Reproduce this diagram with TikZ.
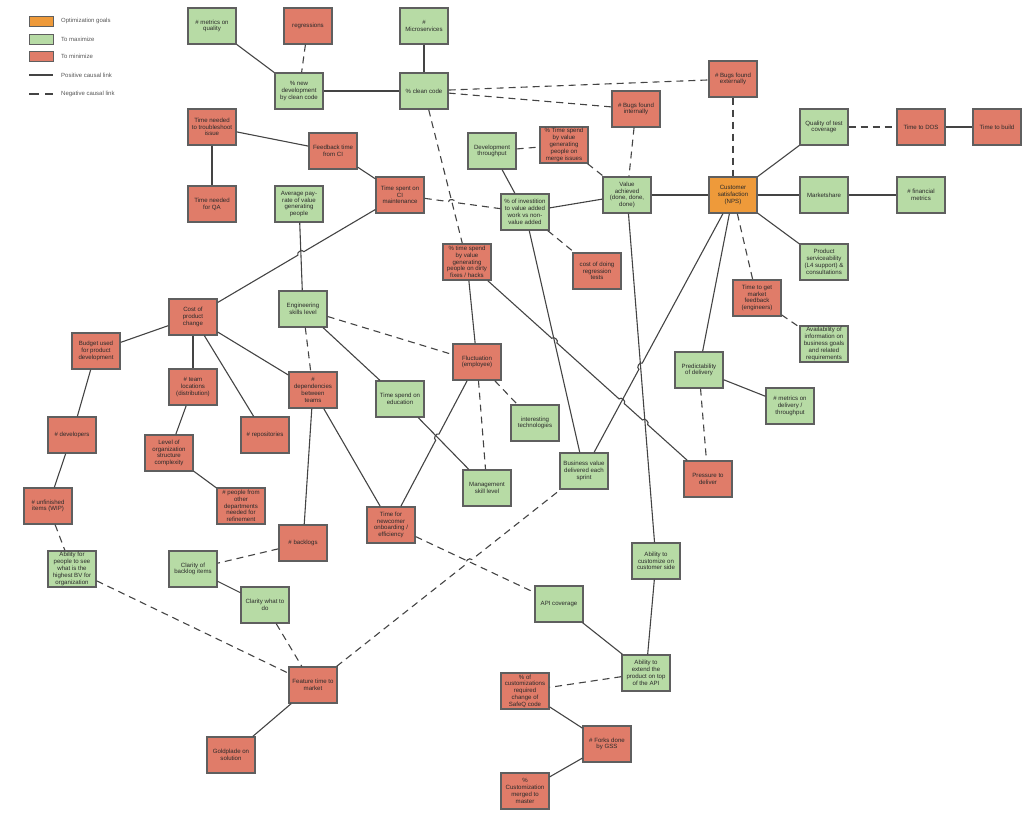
\documentclass[tikz,border=0pt]{standalone}
\usepackage{fontspec}
\setmainfont{Liberation Sans}
\usetikzlibrary{calc}
\definecolor{gfill}{HTML}{B7DBA5}
\definecolor{rfill}{HTML}{E07C69}
\definecolor{ofill}{HTML}{EE9A3A}
\definecolor{bord}{HTML}{5F5F5F}
\definecolor{edgec}{HTML}{444444}
\definecolor{txt}{HTML}{2A2A2A}
\definecolor{legtxt}{HTML}{555555}
\begin{document}
\begin{tikzpicture}[x=1pt,y=-1pt,
  box/.style={draw=bord, line width=1.3pt, minimum width=48pt, minimum height=36pt,
    inner sep=0pt, align=center, font=\fontsize{6.1}{6.8}\selectfont, text=txt},
  gbox/.style={box, fill=gfill},
  rbox/.style={box, fill=rfill},
  obox/.style={box, fill=ofill},
  swatch/.style={draw=bord, line width=1pt, minimum width=24pt, minimum height=10pt, inner sep=0pt},
  legtext/.style={anchor=west, inner sep=0pt, font=\fontsize{6}{7}\selectfont, text=legtxt},
  plink/.style={draw=edgec, line width=1.1pt},
  nlink/.style={plink, dash pattern=on 7pt off 5pt},
  hop/.style={bend left=90, looseness=1.2}
]
\useasboundingbox (0,0) rectangle (1030,819);

% ---------- legend ----------
\node[swatch, fill=ofill] (lgo) at (41,21) {};
\node[swatch, fill=gfill] (lgg) at (41,39.5) {};
\node[swatch, fill=rfill] (lgr) at (41,56) {};
\coordinate (lpa) at (29,75);
\coordinate (lpb) at (53,75);
\coordinate (lna) at (29,94);
\coordinate (lnb) at (53,94);
\draw[plink] (lpa) -- (lpb);
\draw[plink, dash pattern=on 10pt off 6pt] (lna) -- (lnb);
\node[legtext] (lt1) at (61,21) {Optimization goals};
\node[legtext] (lt2) at (61,39.5) {To maximize};
\node[legtext] (lt3) at (61,56) {To minimize};
\node[legtext] (lt4) at (61,75) {Positive causal link};
\node[legtext] (lt5) at (61,94) {Negative causal link};

% ---------- nodes ----------
\node[gbox] (metricsQ) at (212,26) {\# metrics on\\quality};
\node[rbox] (regr) at (308,26) {regressions};
\node[gbox] (newdev) at (299,91) {\% new\\development\\by clean code};
\node[gbox] (micro) at (424,26) {\#\\Microservices};
\node[gbox] (clean) at (424,91) {\% clean code};
\node[rbox] (bugsInt) at (636,109) {\# Bugs found\\internally};
\node[rbox] (bugsExt) at (733,79) {\# Bugs found\\externally};
\node[rbox] (trouble) at (212,127) {Time needed\\to troubleshoot\\issue};
\node[rbox] (feedback) at (333,151) {Feedback time\\from CI};
\node[rbox] (qa) at (212,204) {Time needed\\for QA};
\node[gbox] (avgpay) at (299,204) {Average pay-\\rate of value\\generating\\people};
\node[rbox] (cimaint) at (400,195) {Time spent on\\CI\\maintenance};
\node[gbox] (devthr) at (492,151) {Development\\throughput};
\node[rbox] (merge) at (564,145) {\% Time spend\\by value\\generating\\people on\\merge issues};
\node[gbox] (invest) at (525,212) {\% of investition\\to value added\\work vs non-\\value added};
\node[gbox] (valach) at (627,195) {Value\\achieved\\(done, done,\\done)};
\node[obox] (custsat) at (733,195) {Customer\\satisfaction\\(NPS)};
\node[gbox] (testcov) at (824,127) {Quality of test\\coverage};
\node[rbox] (dos) at (921,127) {Time to DOS};
\node[rbox] (build) at (997,127) {Time to build};
\node[gbox] (market) at (824,195) {Marketshare};
\node[gbox] (fin) at (921,195) {\# financial\\metrics};
\node[gbox] (service) at (824,262) {Product\\serviceability\\(L4 support) \&\\consultations};
\node[rbox] (dirty) at (467,262) {\% time spend\\by value\\generating\\people on dirty\\fixes / hacks};
\node[rbox] (regtests) at (597,271) {cost of doing\\regression\\tests};
\node[rbox] (mfeed) at (757,298) {Time to get\\market\\feedback\\(engineers)};
\node[gbox] (avail) at (824,344) {Availability of\\information on\\business goals\\and related\\requirements};
\node[gbox] (predict) at (699,370) {Predictability\\of delivery};
\node[gbox] (metdel) at (790,406) {\# metrics on\\delivery /\\throughput};
\node[rbox] (pressure) at (708,479) {Pressure to\\deliver};
\node[rbox] (costchg) at (193,317) {Cost of\\product\\change};
\node[gbox] (engskill) at (303,309) {Engineering\\skills level};
\node[rbox] (budget) at (96,351) {Budget used\\for product\\development};
\node[rbox] (teamloc) at (193,387) {\# team\\locations\\(distribution)};
\node[rbox] (deps) at (313,390) {\#\\dependencies\\between\\teams};
\node[rbox] (devs) at (72,435) {\# developers};
\node[rbox] (orgcx) at (169,453) {Level of\\organization\\structure\\complexity};
\node[rbox] (repos) at (265,435) {\# repositories};
\node[rbox] (wip) at (48,506) {\# unfinished\\items (WIP)};
\node[rbox] (pplother) at (241,506) {\# people from\\other\\departments\\needed for\\refinement};
\node[rbox] (backlogs) at (303,543) {\# backlogs};
\node[rbox] (fluct) at (477,362) {Fluctuation\\(employee)};
\node[gbox] (edu) at (400,399) {Time spend on\\education};
\node[gbox] (tech) at (535,423) {interesting\\technologies};
\node[gbox] (mgmt) at (487,488) {Management\\skill level};
\node[gbox] (bizval) at (584,471) {Business value\\delivered each\\sprint};
\node[rbox] (newcomer) at (391,525) {Time for\\newcomer\\onboarding /\\efficiency};
\node[gbox] (seebv) at (72,569) {Ability for\\people to see\\what is the\\highest BV for\\organization};
\node[gbox] (clarbl) at (193,569) {Clarity of\\backlog items};
\node[gbox] (clardo) at (265,605) {Clarity what to\\do};
\node[rbox] (ftm) at (313,685) {Feature time to\\market};
\node[rbox] (gold) at (231,755) {Goldplade on\\solution};
\node[gbox] (custside) at (656,561) {Ability to\\customize on\\customer side};
\node[gbox] (apicov) at (559,604) {API coverage};
\node[gbox] (extapi) at (646,673) {Ability to\\extend the\\product on top\\of the API};
\node[rbox] (custreq) at (525,691) {\% of\\customizations\\required\\change of\\SafeQ code};
\node[rbox] (forks) at (607,744) {\# Forks done\\by GSS};
\node[rbox] (merged) at (525,791) {\%\\Customization\\merged to\\master};

% ---------- crossing points for line hops ----------
\coordinate (h1) at ($(costchg.center)!0.5212!(cimaint.center)$);
\coordinate (h2) at ($(cimaint.center)!0.4155!(invest.center)$);
\coordinate (h3a) at ($(dirty.center)!0.3622!(pressure.center)$);
\coordinate (h3b) at ($(dirty.center)!0.6417!(pressure.center)$);
\coordinate (h3c) at ($(dirty.center)!0.7386!(pressure.center)$);
\coordinate (h4) at ($(bizval.center)!0.3796!(custsat.center)$);
\coordinate (h5) at ($(newcomer.center)!0.5387!(fluct.center)$);
\coordinate (h6) at ($(ftm.center)!0.576!(bizval.center)$);

% ---------- edges ----------
\draw[plink] (metricsQ) -- (newdev);
\draw[nlink] (regr) -- (newdev);
\draw[plink] (newdev) -- (clean);
\draw[plink] (micro) -- (clean);
\draw[nlink] (clean) -- (bugsExt);
\draw[nlink] (clean) -- (bugsInt);
\draw[nlink] (clean) -- (dirty);
\draw[nlink] (bugsExt) -- (custsat);
\draw[nlink] (bugsInt) -- (valach);
\draw[plink] (trouble) -- (feedback);
\draw[plink] (trouble) -- (qa);
\draw[plink] (feedback) -- (cimaint);
\draw[nlink] (cimaint) -- ($(h2)!3.5pt!(cimaint.center)$) to[hop] ($(h2)!3.5pt!(invest.center)$) -- (invest);
\draw[plink] (costchg) -- ($(h1)!3.5pt!(costchg.center)$) to[hop] ($(h1)!3.5pt!(cimaint.center)$) -- (cimaint);
\draw[plink] (avgpay) -- (engskill);
\draw[nlink] (devthr) -- (merge);
\draw[plink] (devthr) -- (invest);
\draw[nlink] (merge) -- (valach);
\draw[plink] (invest) -- (valach);
\draw[nlink] (invest) -- (regtests);
\draw[plink] (invest) -- (bizval);
\draw[plink] (valach) -- (custsat);
\draw[plink] (valach) -- (custside);
\draw[plink] (custsat) -- (testcov);
\draw[plink] (custsat) -- (market);
\draw[plink] (custsat) -- (service);
\draw[nlink] (testcov) -- (dos);
\draw[plink] (dos) -- (build);
\draw[plink] (market) -- (fin);
\draw[nlink] (custsat) -- (mfeed);
\draw[nlink] (mfeed) -- (avail);
\draw[plink] (custsat) -- (predict);
\draw[plink] (bizval) -- ($(h4)!3.5pt!(bizval.center)$) to[hop] ($(h4)!3.5pt!(custsat.center)$) -- (custsat);
\draw[plink] (predict) -- (metdel);
\draw[nlink] (predict) -- (pressure);
\draw[plink] (dirty) -- (fluct);
\draw[plink] (dirty) -- ($(h3a)!3.5pt!(dirty.center)$) to[hop] ($(h3a)!3.5pt!(pressure.center)$)
  -- ($(h3b)!3.5pt!(dirty.center)$) to[hop] ($(h3b)!3.5pt!(pressure.center)$)
  -- ($(h3c)!3.5pt!(dirty.center)$) to[hop] ($(h3c)!3.5pt!(pressure.center)$) -- (pressure);
\draw[nlink] (engskill) -- (fluct);
\draw[nlink] (engskill) -- (deps);
\draw[plink] (engskill) -- (edu);
\draw[plink] (costchg) -- (budget);
\draw[plink] (costchg) -- (teamloc);
\draw[plink] (costchg) -- (repos);
\draw[plink] (costchg) -- (deps);
\draw[plink] (budget) -- (devs);
\draw[plink] (devs) -- (wip);
\draw[nlink] (wip) -- (seebv);
\draw[plink] (teamloc) -- (orgcx);
\draw[plink] (orgcx) -- (pplother);
\draw[plink] (deps) -- (backlogs);
\draw[plink] (deps) -- (newcomer);
\draw[plink] (newcomer) -- ($(h5)!3.5pt!(newcomer.center)$) to[hop] ($(h5)!3.5pt!(fluct.center)$) -- (fluct);
\draw[nlink] (fluct) -- (mgmt);
\draw[nlink] (fluct) -- (tech);
\draw[plink] (edu) -- (mgmt);
\draw[nlink] (newcomer) -- (apicov);
\draw[nlink] (ftm) -- ($(h6)!3.5pt!(ftm.center)$) to[hop] ($(h6)!3.5pt!(bizval.center)$) -- (bizval);
\draw[nlink] (backlogs) -- (clarbl);
\draw[plink] (clarbl) -- (clardo);
\draw[nlink] (clardo) -- (ftm);
\draw[nlink] (seebv) -- (ftm);
\draw[plink] (ftm) -- (gold);
\draw[plink] (custside) -- (extapi);
\draw[plink] (apicov) -- (extapi);
\draw[nlink] (extapi) -- (custreq);
\draw[plink] (custreq) -- (forks);
\draw[plink] (forks) -- (merged);
\end{tikzpicture}
\end{document}
